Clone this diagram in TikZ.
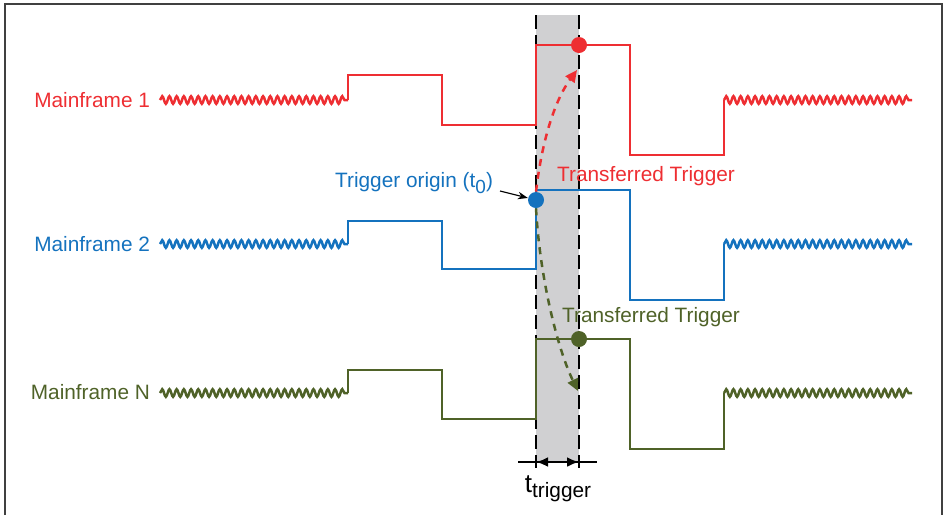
\documentclass[tikz,border=0pt]{standalone}
\usepackage{fontspec}
\setmainfont{Liberation Sans}
\usetikzlibrary{arrows.meta,decorations.pathmorphing}
\definecolor{mfred}{RGB}{238,46,50}
\definecolor{mfblue}{RGB}{20,114,190}
\definecolor{mfgreen}{RGB}{79,98,40}
\definecolor{bandgray}{RGB}{208,208,210}
\begin{document}
\begin{tikzpicture}[x=0.5pt,y=-0.5pt,
  every node/.style={font=\fontsize{10.4pt}{12pt}\selectfont},
  sig/.style={line width=1.25pt,line join=miter},
  wavy/.style={sig,decorate,decoration={snake,segment length=3.6pt,amplitude=1.9pt}},
  dot/.style={circle,inner sep=0pt,minimum size=8pt},
  hop/.style={line width=1.25pt,dash pattern=on 3.5pt off 3pt,-{Triangle[length=6pt,width=5.5pt]}}]
\useasboundingbox (0,0) rectangle (945,515);
% frame, open at the bottom
\draw[line width=1pt,black!75] (5,515) -- (5,4) -- (942,4) -- (942,515);
% trigger window
\fill[bandgray] (536,15) rectangle (579,462);
\foreach \x in {536,579}
  \draw[line width=0.8pt,dash pattern=on 7pt off 3pt] (\x,15) -- (\x,468);
% the three mainframe signals
\foreach \c/\y/\a/\b/\h/\l in {mfred/100/75/125/45/155,
    mfblue/244/221/269/190/300, mfgreen/393/370/419/339/449} {
  \draw[wavy,\c] (160,\y) -- (348,\y);
  \draw[sig,\c] (348,\y) -- (348,\a) -- (442,\a) -- (442,\b) -- (536,\b)
    -- (536,\h) -- (630,\h) -- (630,\l) -- (724,\l) -- (724,\y);
  \draw[wavy,\c] (724,\y) -- (912,\y);
}
\node[text=mfred,anchor=east] (mf1) at (157,100) {Mainframe 1};
\node[text=mfblue,anchor=east] (mf2) at (157,244) {Mainframe 2};
\node[text=mfgreen,anchor=east] (mfn) at (157,392) {Mainframe N};
% trigger points
\node[dot,fill=mfred] (rx) at (579,45) {};
\node[dot,fill=mfblue] (t0) at (536,200) {};
\node[dot,fill=mfgreen] (gx) at (579,339) {};
\coordinate (rtip) at (577,70);
\coordinate (gtip) at (578,391);
\draw[hop,mfred] (t0.north) .. controls (542,140) and (555,100) .. (rtip);
\draw[hop,mfgreen] (t0.south) .. controls (540,280) and (558,350) .. (gtip);
\node[text=mfred] (rlab) at (646,176) {Transferred Trigger};
\node[text=mfgreen] (glab) at (651,317) {Transferred Trigger};
\node[text=mfblue,anchor=east] (orig) at (500,183)
  {Trigger origin (t\raisebox{-3pt}{\fontsize{9.5pt}{10pt}\selectfont 0})};
\draw[line width=0.6pt,-{Stealth[length=5pt]}] ([yshift=-4pt]orig.east) -- (t0);
% window width
\coordinate (wl) at (536,462);
\coordinate (wr) at (579,462);
\draw[line width=0.6pt] ([xshift=-9pt]wl) -- ([xshift=9pt]wr);
\draw[line width=1.2pt,{Latex[length=6pt,width=5pt]}-{Latex[length=6pt,width=5pt]}] (wl) -- (wr);
\node[anchor=base,inner sep=0pt] (tw) at (558,492)
  {{\fontsize{13pt}{15pt}\selectfont t}\raisebox{-2.5pt}{trigger}};
\end{tikzpicture}
\end{document}
